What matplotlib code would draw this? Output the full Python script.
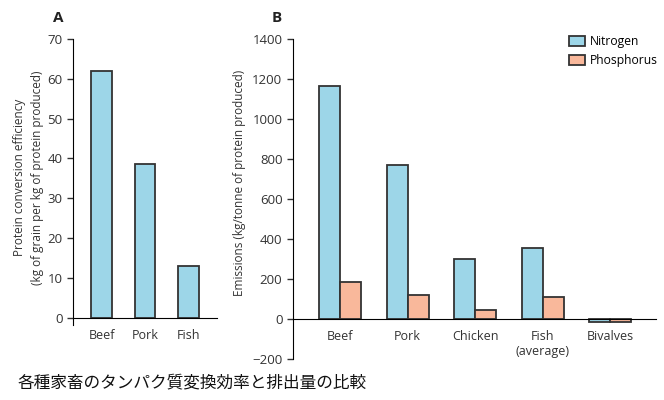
import matplotlib.pyplot as plt
import numpy as np

# Panel A data
a_labels = ['Beef', 'Pork', 'Fish']
a_values = [62, 38.5, 13]

# Panel B data
b_labels = ['Beef', 'Pork', 'Chicken', 'Fish\n(average)', 'Bivalves']
nitrogen = [1165, 770, 300, 355, -15]
phosphorus = [185, 120, 45, 110, -15]

title = '各種家畜のタンパク質変換効率と排出量の比較'

blue = '#9dd6e8'
salmon = '#f9b89b'
edge = '#333333'
txt = '#333333'

plt.rcParams['font.family'] = ['Open Sans', 'DejaVu Sans']
plt.rcParams['font.size'] = 9

fig = plt.figure(figsize=(6.64, 4.0), dpi=100)

# ---- Panel A
axA = fig.add_axes([0.110, 0.1875, 0.217, 0.715])
x = np.arange(len(a_labels))
axA.bar(x, a_values, width=0.48, color=blue, edgecolor=edge, linewidth=1.3)
axA.set_xlim(-0.655, 2.66)
axA.set_ylim(-1.8, 70)
axA.set_yticks(range(0, 71, 10))
axA.set_xticks(x)
axA.set_xticklabels(a_labels)
axA.spines['top'].set_visible(False)
axA.spines['right'].set_visible(False)
axA.spines['bottom'].set_position(('data', 0))
axA.tick_params(axis='x', length=0, pad=8, colors=txt, labelsize=9)
axA.tick_params(axis='y', length=4, width=1, colors=txt, labelsize=9.5)
axA.set_ylabel('Protein conversion efficiency\n(kg of grain per kg of protein produced)',
               fontsize=8.5, color=txt, linespacing=1.45)
axA.yaxis.set_label_coords(-0.205, 0.515)
fig.text(0.087, 0.955, 'A', fontsize=11, fontweight='bold', color='#222222', ha='center', va='center')

# ---- Panel B
axB = fig.add_axes([0.441, 0.1025, 0.547, 0.80])
xb = np.arange(len(b_labels))
w = 0.31
axB.bar(xb - w / 2, nitrogen, width=w, color=blue, edgecolor=edge, linewidth=1.3, label='Nitrogen')
axB.bar(xb + w / 2, phosphorus, width=w, color=salmon, edgecolor=edge, linewidth=1.3, label='Phosphorus')
axB.set_xlim(-0.70, 4.68)
axB.set_ylim(-200, 1400)
axB.set_yticks(range(-200, 1401, 200))
axB.set_yticklabels(['\u2212200'] + [str(v) for v in range(0, 1401, 200)])
axB.set_xticks(xb)
axB.set_xticklabels(b_labels)
axB.spines['top'].set_visible(False)
axB.spines['right'].set_visible(False)
axB.spines['bottom'].set_position(('data', 0))
axB.tick_params(axis='x', length=0, pad=8, colors=txt, labelsize=9)
axB.tick_params(axis='y', length=4, width=1, colors=txt, labelsize=9.5)
axB.set_ylabel('Emissions (kg/tonne of protein produced)', fontsize=8.5, color=txt)
axB.yaxis.set_label_coords(-0.128, 0.55)
axB.legend(loc='upper left', bbox_to_anchor=(0.760, 1.012), frameon=False, fontsize=8.7,
           borderpad=0, borderaxespad=0,
           handlelength=1.35, handleheight=0.85, handletextpad=0.35, labelspacing=0.5)
fig.text(0.417, 0.955, 'B', fontsize=11, fontweight='bold', color='#222222', ha='center', va='center')

fig.text(0.027, 0.043, title, fontsize=12, family=['Noto Sans CJK JP', 'DejaVu Sans'],
         color='#111111', ha='left', va='center')

fig.savefig('out.png', dpi=100)
